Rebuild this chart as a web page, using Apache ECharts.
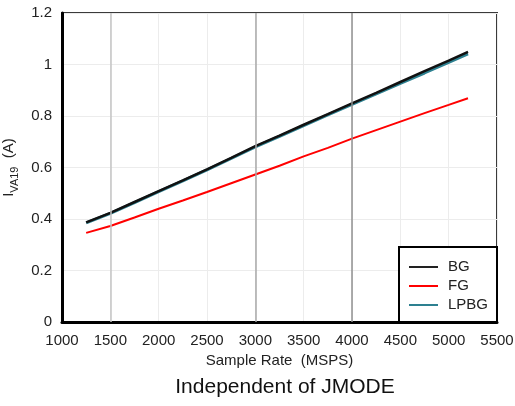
<!DOCTYPE html>
<html>
<head>
<meta charset="utf-8">
<script src="https://cdn.jsdelivr.net/npm/echarts@6/dist/echarts.min.js"></script>
<style>html,body{margin:0;padding:0;background:#fff}#c{width:515px;height:406px}</style>
</head>
<body>
<div id="c"></div>
<script>
const sampleRate = [1250, 1500, 1750, 2000, 2250, 2500, 2750, 3000, 3250, 3500, 3750, 4000, 4250, 4500, 4750, 5000, 5200];
const bg   = [0.387, 0.424, 0.466, 0.508, 0.550, 0.593, 0.637, 0.683, 0.724, 0.766, 0.807, 0.849, 0.890, 0.932, 0.974, 1.015, 1.049];
const fg   = [0.346, 0.373, 0.406, 0.440, 0.472, 0.505, 0.539, 0.573, 0.607, 0.643, 0.676, 0.712, 0.745, 0.778, 0.811, 0.843, 0.869];
const lpbg = [0.385, 0.422, 0.464, 0.506, 0.548, 0.591, 0.635, 0.680, 0.721, 0.763, 0.804, 0.845, 0.886, 0.927, 0.967, 1.008, 1.041];
const seriesNames = ['BG', 'FG', 'LPBG'];
const darkGridX = [1500, 3000, 4000];
const darkGridColor = ['#c4c4c4', '#a8a8a8', '#909090'];
const xTitle = 'Sample Rate  (MSPS)';
const chartCaption = 'Independent of JMODE';

const FONT = "'Liberation Sans', Arial, sans-serif";
const pairs = (ys) => sampleRate.map((x, i) => [x, ys[i]]);

const chart = echarts.init(document.getElementById('c'));
chart.setOption({
  animation: false,
  textStyle: { fontFamily: FONT },
  grid: { left: 62, right: 18, top: 13, bottom: 84, outerBoundsMode: 'none',
          show: true, borderColor: '#3a3a3a', borderWidth: 2, backgroundColor: 'transparent' },
  xAxis: {
    type: 'value', min: 1000, max: 5500, interval: 500,
    name: xTitle, nameLocation: 'middle', nameGap: 29,
    nameTextStyle: { fontSize: 15, color: '#222', fontFamily: FONT },
    axisLine: { show: true, onZero: false, lineStyle: { color: '#000', width: 3 } },
    axisTick: { show: false },
    axisLabel: { fontSize: 15, color: '#222', margin: 11, fontFamily: FONT, formatter: (v) => String(v) },
    splitLine: { show: true, lineStyle: { color: '#ececec', width: 1 } }
  },
  yAxis: {
    type: 'value', min: 0, max: 1.2, interval: 0.2,
    name: '{a|I}{b|VA19}{a|  (A)}', nameLocation: 'middle', nameGap: 42, nameRotate: 90,
    nameTextStyle: {
      color: '#222', fontFamily: FONT,
      rich: {
        a: { fontSize: 15, color: '#222', fontFamily: FONT, verticalAlign: 'bottom', lineHeight: 18 },
        b: { fontSize: 11, color: '#222', fontFamily: FONT, verticalAlign: 'bottom', lineHeight: 18, padding: [0, 0, -4, 0] }
      }
    },
    axisLine: { show: true, lineStyle: { color: '#000', width: 3 } },
    axisTick: { show: false },
    axisLabel: { fontSize: 15, color: '#222', margin: 10, fontFamily: FONT },
    splitLine: { show: true, lineStyle: { color: '#ececec', width: 1 } }
  },
  legend: {
    show: true, orient: 'vertical', left: 409, top: 259, z: 30,
    data: [
      { name: 'BG', icon: 'rect', itemStyle: { color: '#222' } },
      { name: 'FG', icon: 'rect', itemStyle: { color: '#ff0000' } },
      { name: 'LPBG', icon: 'rect', itemStyle: { color: '#2d8090' } }
    ],
    itemWidth: 29, itemHeight: 2, itemGap: 3,
    padding: 0, backgroundColor: 'transparent',
    textStyle: { fontSize: 15, color: '#222', fontFamily: FONT, padding: [0, 0, 0, 5], lineHeight: 16 }
  },
  graphic: [
    { type: 'rect', z: 20, shape: { x: 399, y: 247, width: 98, height: 75 },
      style: { fill: '#fff', stroke: '#000', lineWidth: 2 } },
    { type: 'text', z: 20, x: 285, y: 387,
      style: { text: chartCaption, fontSize: 21, fill: '#111', fontFamily: FONT, align: 'center', verticalAlign: 'middle' } }
  ],
  series: [
    { name: 'gridmarks', type: 'line', data: [], z: 1, silent: true,
      markLine: { silent: true, symbol: 'none', label: { show: false }, animation: false,
        data: darkGridX.map((x, i) => ({ xAxis: x, lineStyle: { color: darkGridColor[i], width: 1.5, type: 'solid' } })) } },
    { name: 'LPBG', type: 'line', data: pairs(lpbg), symbol: 'none', z: 3,
      lineStyle: { color: '#2d8090', width: 3 }, itemStyle: { color: '#2d8090' } },
    { name: 'BG', type: 'line', data: pairs(bg), symbol: 'none', z: 4,
      lineStyle: { color: '#111', width: 2.5 }, itemStyle: { color: '#111' } },
    { name: 'FG', type: 'line', data: pairs(fg), symbol: 'none', z: 4,
      lineStyle: { color: '#ff0000', width: 2 }, itemStyle: { color: '#ff0000' } }
  ]
});
</script>
</body>
</html>
